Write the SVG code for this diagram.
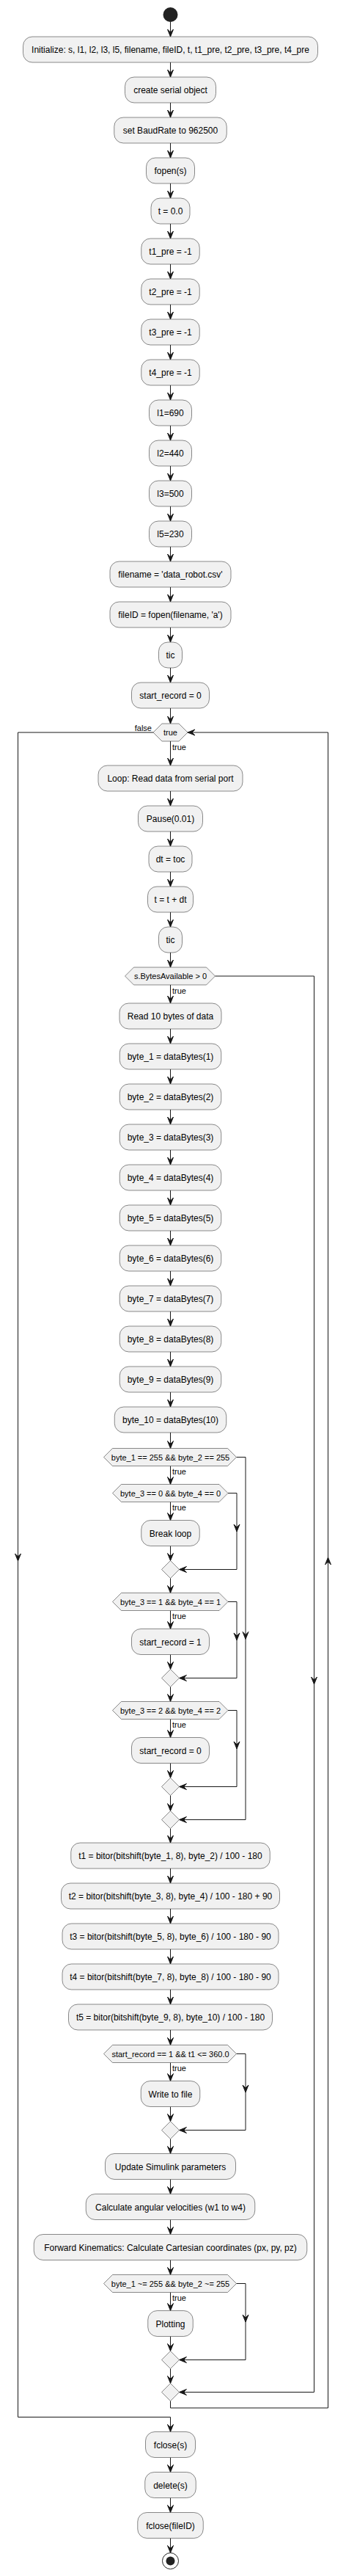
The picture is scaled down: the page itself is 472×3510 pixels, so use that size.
<svg xmlns="http://www.w3.org/2000/svg" xmlns:xlink="http://www.w3.org/1999/xlink" width="472" height="3510" viewBox="0 0 472 3510">
<style>
.n rect{fill:#F1F1F1;stroke:#181818;stroke-width:0.5}
.h polygon{fill:#F1F1F1;stroke:#181818;stroke-width:0.5}
text{font-family:"Liberation Sans",Arial,sans-serif;fill:#000000}
.n text{font-size:12px;text-anchor:middle}
.h text{font-size:11px;text-anchor:middle}
.lbl{font-size:11px}
.c path{fill:none;stroke:#181818;stroke-width:1}
.ah{fill:#181818;stroke:#181818;stroke-width:1}
</style>
<defs>
<path id="ad" class="ah" d="M-4,-10 L0,0 L4,-10 L0,-6 Z"/>
<path id="al" class="ah" d="M10,-4 L0,0 L10,4 L6,0 Z"/>
<path id="au" class="ah" d="M-4,10 L0,0 L4,10 L0,6 Z"/>
</defs>
<rect x="0" y="0" width="472" height="3510" fill="#FFFFFF"/>

<g id="connectors" class="c">
<path d="M232.5,30V50 M232.5,85V105 M232.5,140V160 M232.5,195V215 M232.5,250V270 M232.5,305V325 M232.5,360V380 M232.5,415V435 M232.5,470V490 M232.5,525V545 M232.5,580V600 M232.5,635V655 M232.5,690V710 M232.5,745V765 M232.5,800V820 M232.5,855V875 M232.5,910V930 M232.5,965V986 M232.5,1010V1043 M232.5,1078V1098 M232.5,1133V1153 M232.5,1188V1208 M232.5,1243V1263 M232.5,1298V1318 M232.5,1342V1367 M232.5,1402V1422 M232.5,1457V1477 M232.5,1512V1532 M232.5,1567V1587 M232.5,1622V1642 M232.5,1677V1697 M232.5,1732V1752 M232.5,1787V1807 M232.5,1842V1862 M232.5,1897V1917 M232.5,1952V1973.5 M232.5,1997.5V2022.5 M232.5,2046.5V2071.5 M232.5,2106.5V2126.5 M232.5,2150.5V2170.5 M232.5,2194.5V2219.5 M232.5,2254.5V2274.5 M232.5,2298.5V2318.5 M232.5,2342.5V2367.5 M232.5,2402.5V2422.5 M232.5,2446.5V2467.5 M232.5,2491.5V2511 M232.5,2546V2566 M232.5,2601V2621 M232.5,2656V2676 M232.5,2711V2731 M232.5,2766V2786.5 M232.5,2810.5V2835.5 M232.5,2870.5V2890.5 M232.5,2914.5V2934.5 M232.5,2969.5V2989.5 M232.5,3024.5V3044.5 M232.5,3079.5V3099.5 M232.5,3123.5V3148.5 M232.5,3183.5V3203.5 M232.5,3227.5V3247.5 M232.5,3348.5V3368.5 M232.5,3403.5V3423.5 M232.5,3458.5V3478.5"/>
<path d="M322.5,1985.5H335V2479.5H244.5"/>
<path d="M311,2034.5H323V2138.5H244.5"/>
<path d="M311,2182.5H323V2286.5H244.5"/>
<path d="M311,2330.5H323V2434.5H244.5"/>
<path d="M322.5,2798.5H335V2902.5H244.5"/>
<path d="M322.5,3111.5H335V3215.5H244.5"/>
<path d="M293.5,1330H428.5V3259.5H244.5"/>
<path d="M232.5,3271.5V3281H447.5V998H256"/>
<path d="M209,998H24.5V3293.5H232.5V3313.5"/>
<use xlink:href="#ad" x="232.5" y="50"/><use xlink:href="#ad" x="232.5" y="105"/><use xlink:href="#ad" x="232.5" y="160"/><use xlink:href="#ad" x="232.5" y="215"/><use xlink:href="#ad" x="232.5" y="270"/><use xlink:href="#ad" x="232.5" y="325"/><use xlink:href="#ad" x="232.5" y="380"/><use xlink:href="#ad" x="232.5" y="435"/><use xlink:href="#ad" x="232.5" y="490"/><use xlink:href="#ad" x="232.5" y="545"/><use xlink:href="#ad" x="232.5" y="600"/><use xlink:href="#ad" x="232.5" y="655"/><use xlink:href="#ad" x="232.5" y="710"/><use xlink:href="#ad" x="232.5" y="765"/><use xlink:href="#ad" x="232.5" y="820"/><use xlink:href="#ad" x="232.5" y="875"/><use xlink:href="#ad" x="232.5" y="930"/><use xlink:href="#ad" x="232.5" y="986"/><use xlink:href="#ad" x="232.5" y="1043"/><use xlink:href="#ad" x="232.5" y="1098"/><use xlink:href="#ad" x="232.5" y="1153"/><use xlink:href="#ad" x="232.5" y="1208"/><use xlink:href="#ad" x="232.5" y="1263"/><use xlink:href="#ad" x="232.5" y="1318"/><use xlink:href="#ad" x="232.5" y="1367"/><use xlink:href="#ad" x="232.5" y="1422"/><use xlink:href="#ad" x="232.5" y="1477"/><use xlink:href="#ad" x="232.5" y="1532"/><use xlink:href="#ad" x="232.5" y="1587"/><use xlink:href="#ad" x="232.5" y="1642"/><use xlink:href="#ad" x="232.5" y="1697"/><use xlink:href="#ad" x="232.5" y="1752"/><use xlink:href="#ad" x="232.5" y="1807"/><use xlink:href="#ad" x="232.5" y="1862"/><use xlink:href="#ad" x="232.5" y="1917"/><use xlink:href="#ad" x="232.5" y="1973.5"/><use xlink:href="#ad" x="232.5" y="2022.5"/><use xlink:href="#ad" x="232.5" y="2071.5"/><use xlink:href="#ad" x="232.5" y="2126.5"/><use xlink:href="#ad" x="232.5" y="2170.5"/><use xlink:href="#ad" x="232.5" y="2219.5"/><use xlink:href="#ad" x="232.5" y="2274.5"/><use xlink:href="#ad" x="232.5" y="2318.5"/><use xlink:href="#ad" x="232.5" y="2367.5"/><use xlink:href="#ad" x="232.5" y="2422.5"/><use xlink:href="#ad" x="232.5" y="2467.5"/><use xlink:href="#ad" x="232.5" y="2511"/><use xlink:href="#ad" x="232.5" y="2566"/><use xlink:href="#ad" x="232.5" y="2621"/><use xlink:href="#ad" x="232.5" y="2676"/><use xlink:href="#ad" x="232.5" y="2731"/><use xlink:href="#ad" x="232.5" y="2786.5"/><use xlink:href="#ad" x="232.5" y="2835.5"/><use xlink:href="#ad" x="232.5" y="2890.5"/><use xlink:href="#ad" x="232.5" y="2934.5"/><use xlink:href="#ad" x="232.5" y="2989.5"/><use xlink:href="#ad" x="232.5" y="3044.5"/><use xlink:href="#ad" x="232.5" y="3099.5"/><use xlink:href="#ad" x="232.5" y="3148.5"/><use xlink:href="#ad" x="232.5" y="3203.5"/><use xlink:href="#ad" x="232.5" y="3247.5"/><use xlink:href="#ad" x="232.5" y="3313.5"/><use xlink:href="#ad" x="232.5" y="3368.5"/><use xlink:href="#ad" x="232.5" y="3423.5"/><use xlink:href="#ad" x="232.5" y="3478.5"/>
<use xlink:href="#ad" x="335" y="2233.5"/><use xlink:href="#al" x="244.5" y="2479.5"/>
<use xlink:href="#ad" x="323" y="2087"/><use xlink:href="#al" x="244.5" y="2138.5"/>
<use xlink:href="#ad" x="323" y="2235"/><use xlink:href="#al" x="244.5" y="2286.5"/>
<use xlink:href="#ad" x="323" y="2383"/><use xlink:href="#al" x="244.5" y="2434.5"/>
<use xlink:href="#ad" x="335" y="2851"/><use xlink:href="#al" x="244.5" y="2902.5"/>
<use xlink:href="#ad" x="335" y="3164"/><use xlink:href="#al" x="244.5" y="3215.5"/>
<use xlink:href="#ad" x="428.5" y="2295"/><use xlink:href="#al" x="244.5" y="3259.5"/>
<use xlink:href="#au" x="447.5" y="2122"/><use xlink:href="#al" x="256" y="998"/>
<use xlink:href="#ad" x="24.5" y="2127"/>
<text class="lbl" x="207" y="996" text-anchor="end">false</text>
<text class="lbl" x="235" y="1022">true</text>
<text class="lbl" x="235" y="1354">true</text>
<text class="lbl" x="235" y="2009">true</text>
<text class="lbl" x="235" y="2058">true</text>
<text class="lbl" x="235" y="2206">true</text>
<text class="lbl" x="235" y="2354">true</text>
<text class="lbl" x="235" y="2822">true</text>
<text class="lbl" x="235" y="3135">true</text>
</g>

<g id="start"><circle cx="232.5" cy="20" r="10" fill="#222222"/></g>
<g id="n_init" class="n"><rect x="31.5" y="50" width="402" height="35" rx="12.5"/><text x="232.5" y="72">Initialize: s, l1, l2, l3, l5, filename, fileID, t, t1_pre, t2_pre, t3_pre, t4_pre</text></g>
<g id="n_serial" class="n"><rect x="170.5" y="105" width="124" height="35" rx="12.5"/><text x="232.5" y="127">create serial object</text></g>
<g id="n_baud" class="n"><rect x="155.75" y="160" width="153.5" height="35" rx="12.5"/><text x="232.5" y="182">set BaudRate to 962500</text></g>
<g id="n_fopen" class="n"><rect x="199.5" y="215" width="66" height="35" rx="12.5"/><text x="232.5" y="237">fopen(s)</text></g>
<g id="n_t0" class="n"><rect x="206" y="270" width="53" height="35" rx="12.5"/><text x="232.5" y="292">t = 0.0</text></g>
<g id="n_t1pre" class="n"><rect x="192.75" y="325" width="79.5" height="35" rx="12.5"/><text x="232.5" y="347">t1_pre = -1</text></g>
<g id="n_t2pre" class="n"><rect x="192.75" y="380" width="79.5" height="35" rx="12.5"/><text x="232.5" y="402">t2_pre = -1</text></g>
<g id="n_t3pre" class="n"><rect x="192.75" y="435" width="79.5" height="35" rx="12.5"/><text x="232.5" y="457">t3_pre = -1</text></g>
<g id="n_t4pre" class="n"><rect x="192.75" y="490" width="79.5" height="35" rx="12.5"/><text x="232.5" y="512">t4_pre = -1</text></g>
<g id="n_l1" class="n"><rect x="203.5" y="545" width="58" height="35" rx="12.5"/><text x="232.5" y="567">l1=690</text></g>
<g id="n_l2" class="n"><rect x="203.5" y="600" width="58" height="35" rx="12.5"/><text x="232.5" y="622">l2=440</text></g>
<g id="n_l3" class="n"><rect x="203.5" y="655" width="58" height="35" rx="12.5"/><text x="232.5" y="677">l3=500</text></g>
<g id="n_l5" class="n"><rect x="203.5" y="710" width="58" height="35" rx="12.5"/><text x="232.5" y="732">l5=230</text></g>
<g id="n_filename" class="n"><rect x="150" y="765" width="165" height="35" rx="12.5"/><text x="232.5" y="787">filename = 'data_robot.csv'</text></g>
<g id="n_fileid" class="n"><rect x="150" y="820" width="165" height="35" rx="12.5"/><text x="232.5" y="842">fileID = fopen(filename, 'a')</text></g>
<g id="n_tic1" class="n"><rect x="216.5" y="875" width="32" height="35" rx="12.5"/><text x="232.5" y="897">tic</text></g>
<g id="n_sr_init" class="n"><rect x="179.5" y="930" width="106" height="35" rx="12.5"/><text x="232.5" y="952">start_record = 0</text></g>
<g id="h_while" class="h"><polygon points="209,998 221,986 244,986 256,998 244,1010 221,1010"/><text x="232.5" y="1002">true</text></g>
<g id="n_loop" class="n"><rect x="134" y="1043" width="197" height="35" rx="12.5"/><text x="232.5" y="1065">Loop: Read data from serial port</text></g>
<g id="n_pause" class="n"><rect x="188.5" y="1098" width="88" height="35" rx="12.5"/><text x="232.5" y="1120">Pause(0.01)</text></g>
<g id="n_dt" class="n"><rect x="203" y="1153" width="59" height="35" rx="12.5"/><text x="232.5" y="1175">dt = toc</text></g>
<g id="n_tdt" class="n"><rect x="201.5" y="1208" width="62" height="35" rx="12.5"/><text x="232.5" y="1230">t = t + dt</text></g>
<g id="n_tic2" class="n"><rect x="216.5" y="1263" width="32" height="35" rx="12.5"/><text x="232.5" y="1285">tic</text></g>
<g id="h_bytes" class="h"><polygon points="170.5,1330 182.5,1318 281.5,1318 293.5,1330 281.5,1342 182.5,1342"/><text x="232.5" y="1334">s.BytesAvailable &gt; 0</text></g>
<g id="n_read" class="n"><rect x="163" y="1367" width="139" height="35" rx="12.5"/><text x="232.5" y="1389">Read 10 bytes of data</text></g>
<g id="n_b1" class="n"><rect x="163.25" y="1422" width="138.5" height="35" rx="12.5"/><text x="232.5" y="1444">byte_1 = dataBytes(1)</text></g>
<g id="n_b2" class="n"><rect x="163.25" y="1477" width="138.5" height="35" rx="12.5"/><text x="232.5" y="1499">byte_2 = dataBytes(2)</text></g>
<g id="n_b3" class="n"><rect x="163.25" y="1532" width="138.5" height="35" rx="12.5"/><text x="232.5" y="1554">byte_3 = dataBytes(3)</text></g>
<g id="n_b4" class="n"><rect x="163.25" y="1587" width="138.5" height="35" rx="12.5"/><text x="232.5" y="1609">byte_4 = dataBytes(4)</text></g>
<g id="n_b5" class="n"><rect x="163.25" y="1642" width="138.5" height="35" rx="12.5"/><text x="232.5" y="1664">byte_5 = dataBytes(5)</text></g>
<g id="n_b6" class="n"><rect x="163.25" y="1697" width="138.5" height="35" rx="12.5"/><text x="232.5" y="1719">byte_6 = dataBytes(6)</text></g>
<g id="n_b7" class="n"><rect x="163.25" y="1752" width="138.5" height="35" rx="12.5"/><text x="232.5" y="1774">byte_7 = dataBytes(7)</text></g>
<g id="n_b8" class="n"><rect x="163.25" y="1807" width="138.5" height="35" rx="12.5"/><text x="232.5" y="1829">byte_8 = dataBytes(8)</text></g>
<g id="n_b9" class="n"><rect x="163.25" y="1862" width="138.5" height="35" rx="12.5"/><text x="232.5" y="1884">byte_9 = dataBytes(9)</text></g>
<g id="n_b10" class="n"><rect x="156.25" y="1917" width="152.5" height="35" rx="12.5"/><text x="232.5" y="1939">byte_10 = dataBytes(10)</text></g>
<g id="h_255" class="h"><polygon points="141.5,1985.5 153.5,1973.5 310.5,1973.5 322.5,1985.5 310.5,1997.5 153.5,1997.5"/><text x="232.5" y="1989.5">byte_1 == 255 &amp;&amp; byte_2 == 255</text></g>
<g id="h_00" class="h"><polygon points="153.5,2034.5 165.5,2022.5 299,2022.5 311,2034.5 299,2046.5 165.5,2046.5"/><text x="232.5" y="2038.5">byte_3 == 0 &amp;&amp; byte_4 == 0</text></g>
<g id="n_break" class="n"><rect x="192.75" y="2071.5" width="79.5" height="35" rx="12.5"/><text x="232.5" y="2093.5">Break loop</text></g>
<g id="m_1" class="h"><polygon points="220.5,2138.5 232.5,2126.5 244.5,2138.5 232.5,2150.5"/></g>
<g id="h_11" class="h"><polygon points="153.5,2182.5 165.5,2170.5 299,2170.5 311,2182.5 299,2194.5 165.5,2194.5"/><text x="232.5" y="2186.5">byte_3 == 1 &amp;&amp; byte_4 == 1</text></g>
<g id="n_sr1" class="n"><rect x="179.5" y="2219.5" width="106" height="35" rx="12.5"/><text x="232.5" y="2241.5">start_record = 1</text></g>
<g id="m_2" class="h"><polygon points="220.5,2286.5 232.5,2274.5 244.5,2286.5 232.5,2298.5"/></g>
<g id="h_22" class="h"><polygon points="153.5,2330.5 165.5,2318.5 299,2318.5 311,2330.5 299,2342.5 165.5,2342.5"/><text x="232.5" y="2334.5">byte_3 == 2 &amp;&amp; byte_4 == 2</text></g>
<g id="n_sr0" class="n"><rect x="179.5" y="2367.5" width="106" height="35" rx="12.5"/><text x="232.5" y="2389.5">start_record = 0</text></g>
<g id="m_3" class="h"><polygon points="220.5,2434.5 232.5,2422.5 244.5,2434.5 232.5,2446.5"/></g>
<g id="m_4" class="h"><polygon points="220.5,2479.5 232.5,2467.5 244.5,2479.5 232.5,2491.5"/></g>
<g id="n_t1" class="n"><rect x="96.75" y="2511" width="271.5" height="35" rx="12.5"/><text x="232.5" y="2533">t1 = bitor(bitshift(byte_1, 8), byte_2) / 100 - 180</text></g>
<g id="n_t2" class="n"><rect x="83.5" y="2566" width="298" height="35" rx="12.5"/><text x="232.5" y="2588">t2 = bitor(bitshift(byte_3, 8), byte_4) / 100 - 180 + 90</text></g>
<g id="n_t3" class="n"><rect x="85" y="2621" width="295" height="35" rx="12.5"/><text x="232.5" y="2643">t3 = bitor(bitshift(byte_5, 8), byte_6) / 100 - 180 - 90</text></g>
<g id="n_t4" class="n"><rect x="85" y="2676" width="295" height="35" rx="12.5"/><text x="232.5" y="2698">t4 = bitor(bitshift(byte_7, 8), byte_8) / 100 - 180 - 90</text></g>
<g id="n_t5" class="n"><rect x="93.5" y="2731" width="278" height="35" rx="12.5"/><text x="232.5" y="2753">t5 = bitor(bitshift(byte_9, 8), byte_10) / 100 - 180</text></g>
<g id="h_sr" class="h"><polygon points="141.5,2798.5 153.5,2786.5 310.5,2786.5 322.5,2798.5 310.5,2810.5 153.5,2810.5"/><text x="232.5" y="2802.5">start_record == 1 &amp;&amp; t1 &lt;= 360.0</text></g>
<g id="n_write" class="n"><rect x="192.25" y="2835.5" width="80.5" height="35" rx="12.5"/><text x="232.5" y="2857.5">Write to file</text></g>
<g id="m_5" class="h"><polygon points="220.5,2902.5 232.5,2890.5 244.5,2902.5 232.5,2914.5"/></g>
<g id="n_update" class="n"><rect x="143.5" y="2934.5" width="178" height="35" rx="12.5"/><text x="232.5" y="2956.5">Update Simulink parameters</text></g>
<g id="n_calc" class="n"><rect x="117.25" y="2989.5" width="230.5" height="35" rx="12.5"/><text x="232.5" y="3011.5">Calculate angular velocities (w1 to w4)</text></g>
<g id="n_fk" class="n"><rect x="46.25" y="3044.5" width="372.5" height="35" rx="12.5"/><text x="232.5" y="3066.5">Forward Kinematics: Calculate Cartesian coordinates (px, py, pz)</text></g>
<g id="h_plot" class="h"><polygon points="141.5,3111.5 153.5,3099.5 310.5,3099.5 322.5,3111.5 310.5,3123.5 153.5,3123.5"/><text x="232.5" y="3115.5">byte_1 ~= 255 &amp;&amp; byte_2 ~= 255</text></g>
<g id="n_plotting" class="n"><rect x="201.75" y="3148.5" width="61.5" height="35" rx="12.5"/><text x="232.5" y="3170.5">Plotting</text></g>
<g id="m_6" class="h"><polygon points="220.5,3215.5 232.5,3203.5 244.5,3215.5 232.5,3227.5"/></g>
<g id="m_7" class="h"><polygon points="220.5,3259.5 232.5,3247.5 244.5,3259.5 232.5,3271.5"/></g>
<g id="n_fclose_s" class="n"><rect x="198.5" y="3313.5" width="68" height="35" rx="12.5"/><text x="232.5" y="3335.5">fclose(s)</text></g>
<g id="n_delete" class="n"><rect x="197.75" y="3368.5" width="69.5" height="35" rx="12.5"/><text x="232.5" y="3390.5">delete(s)</text></g>
<g id="n_fclose_f" class="n"><rect x="187.75" y="3423.5" width="89.5" height="35" rx="12.5"/><text x="232.5" y="3445.5">fclose(fileID)</text></g>
<g id="end"><circle cx="232.5" cy="3489.5" r="11" fill="none" stroke="#222222" stroke-width="1"/><circle cx="232.5" cy="3489.5" r="6" fill="#222222"/></g>
</svg>
